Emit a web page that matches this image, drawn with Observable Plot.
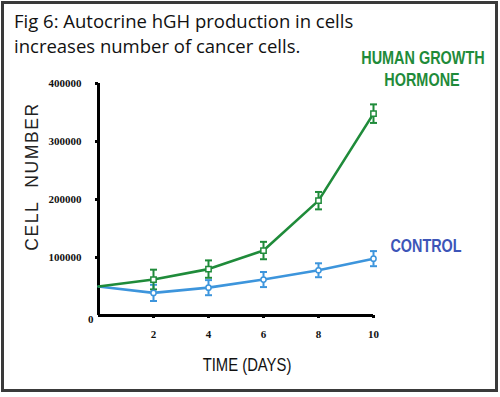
<!DOCTYPE html>
<html>
<head>
<meta charset="utf-8">
<script src="https://cdn.jsdelivr.net/npm/d3@7"></script>
<script src="https://cdn.jsdelivr.net/npm/@observablehq/plot@0.6"></script>
<style>
  html, body { margin: 0; padding: 0; background: #fff; }
  #wrap { position: relative; width: 500px; height: 397px; overflow: hidden; background: #fff; }
  #frame { position: absolute; left: 1px; top: 1px; width: 491px; height: 385px; border: 3px solid #3a3a3a; }
  #title { position: absolute; left: 14px; top: 8px; font-family: "Open Sans", sans-serif; font-size: 18.5px; line-height: 25px; color: #111; }
  #chart { position: absolute; left: 0; top: 0; }
  .lbl { position: absolute; font-family: "Liberation Sans", sans-serif; text-align: center; white-space: nowrap; transform-origin: 50% 50%; }
  #hgh { left: 342px; top: 47px; width: 160px; font-size: 19px; line-height: 22px; color: #1f8b3a; font-weight: bold; transform: scaleX(0.76); }
  #ctl { left: 376px; top: 236px; width: 100px; font-size: 18px; color: #3d55b8; font-weight: bold; transform: scaleX(0.8); }
  #xt { left: 187px; top: 354px; width: 120px; font-size: 19px; color: #111; transform: scaleX(0.78); }
  #yt { left: -43px; top: 166px; width: 150px; font-size: 17.5px; color: #222; letter-spacing: 1.6px; transform: rotate(-90deg); }
</style>
</head>
<body>
<div id="wrap">
  <div id="frame"></div>
  <div id="chart"></div>
  <div id="title">Fig 6: Autocrine hGH production in cells<br>increases number of cancer cells.</div>
  <div class="lbl" id="hgh">HUMAN GROWTH<br>HORMONE</div>
  <div class="lbl" id="ctl">CONTROL</div>
  <div class="lbl" id="xt">TIME (DAYS)</div>
  <div class="lbl" id="yt">CELL&nbsp;&nbsp;NUMBER</div>
</div>
<script>
const days = [0, 2, 4, 6, 8, 10];
const hgh = [50000, 62000, 80000, 112000, 198000, 348000];
const hghErr = [0, 17000, 15000, 15000, 15000, 16000];
const control = [50000, 39000, 48000, 62000, 78000, 98000];
const controlErr = [0, 14000, 13000, 13000, 12000, 13000];
const yTicks = [100000, 200000, 300000, 400000];
const xTicks = [2, 4, 6, 8, 10];

const green = "#1f8b3a";
const blue = "#3d95dc";

const hghData = days.map((d, i) => ({day: d, v: hgh[i], lo: hgh[i] - hghErr[i], hi: hgh[i] + hghErr[i], err: hghErr[i]}));
const ctlData = days.map((d, i) => ({day: d, v: control[i], lo: control[i] - controlErr[i], hi: control[i] + controlErr[i], err: controlErr[i]}));
const hghE = hghData.filter(d => d.err > 0);
const ctlE = ctlData.filter(d => d.err > 0);

const cap = {draw(ctx, size) { const r = Math.sqrt(size / Math.PI); ctx.moveTo(-r, 0); ctx.lineTo(r, 0); }};

const serif = "'Liberation Serif', 'DejaVu Serif', serif";
const fmt = d3.format("d");

const chart = Plot.plot({
  width: 500,
  height: 397,
  marginLeft: 98,
  marginRight: 127,
  marginTop: 83,
  marginBottom: 82,
  style: {background: "transparent", overflow: "visible"},
  x: {domain: [0, 10], axis: null},
  y: {domain: [0, 400000], axis: null},
  marks: [
    Plot.ruleX([0], {y1: 0, y2: 400000, stroke: "#000", strokeWidth: 3}),
    Plot.ruleY([0], {x1: 0, x2: 10, stroke: "#000", strokeWidth: 3}),
    Plot.axisY(yTicks, {label: null, tickFormat: fmt, tickSize: 3, strokeWidth: 3, tickPadding: 14, fontFamily: serif, fontWeight: "bold", fontSize: 11, fill: "#111"}),
    Plot.axisY([0], {label: null, tickFormat: fmt, tickSize: 0, tickPadding: 5, dy: 4, fontFamily: serif, fontWeight: "bold", fontSize: 11, fill: "#111"}),
    Plot.axisX(xTicks, {label: null, tickFormat: fmt, tickSize: 3, strokeWidth: 3, tickPadding: 12, fontFamily: serif, fontWeight: "bold", fontSize: 11, fill: "#111"}),
    Plot.line(ctlData, {x: "day", y: "v", stroke: blue, strokeWidth: 2.6}),
    Plot.line(hghData, {x: "day", y: "v", stroke: green, strokeWidth: 2.6}),
    Plot.ruleX(ctlE, {x: "day", y1: "lo", y2: "hi", stroke: blue, strokeWidth: 2}),
    Plot.dot(ctlE, {x: "day", y: "lo", symbol: cap, r: 3.5, stroke: blue, strokeWidth: 2}),
    Plot.dot(ctlE, {x: "day", y: "hi", symbol: cap, r: 3.5, stroke: blue, strokeWidth: 2}),
    Plot.ruleX(hghE, {x: "day", y1: "lo", y2: "hi", stroke: green, strokeWidth: 2}),
    Plot.dot(hghE, {x: "day", y: "lo", symbol: cap, r: 3.5, stroke: green, strokeWidth: 2}),
    Plot.dot(hghE, {x: "day", y: "hi", symbol: cap, r: 3.5, stroke: green, strokeWidth: 2}),
    Plot.dot(ctlE, {x: "day", y: "v", symbol: "circle", r: 2.6, fill: "#fff", stroke: blue, strokeWidth: 1.5}),
    Plot.dot(hghE, {x: "day", y: "v", symbol: "square", r: 3, fill: "#fff", stroke: green, strokeWidth: 1.5})
  ]
});
document.getElementById("chart").appendChild(chart);
</script>
</body>
</html>
